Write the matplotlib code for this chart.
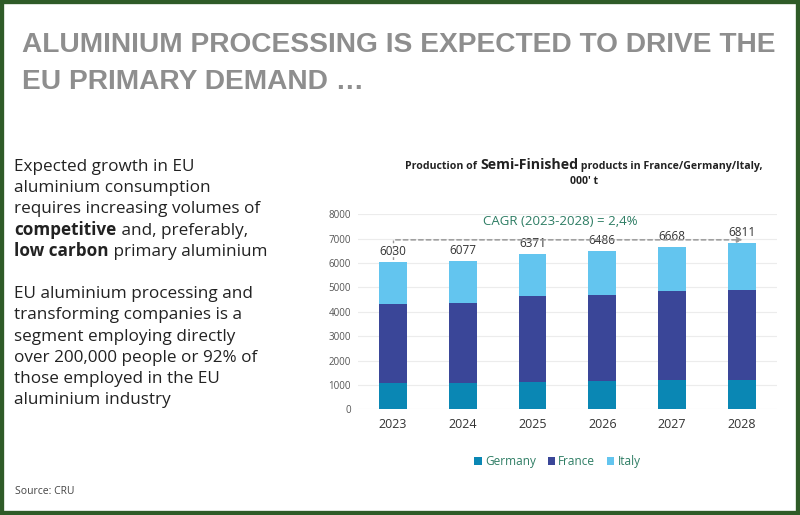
import numpy as np
import matplotlib.pyplot as plt
from matplotlib.patches import Rectangle

# Data
years = ['2023', '2024', '2025', '2026', '2027', '2028']
germany = [1070, 1080, 1140, 1175, 1190, 1210]
france = [3250, 3280, 3520, 3525, 3650, 3700]
italy = [1710, 1717, 1711, 1786, 1828, 1901]
totals = [6030, 6077, 6371, 6486, 6668, 6811]
cagr_label = 'CAGR (2023-2028) = 2,4%'
cagr_level = 6950

C_GER = '#0a87b4'
C_FRA = '#3a4698'
C_ITA = '#63c5ef'
GREEN = '#2e7d64'
BORDER = '#2f5b28'
FONT = ['Open Sans', 'DejaVu Sans']
TITLE_FONT = ['Liberation Sans', 'DejaVu Sans']

fig = plt.figure(figsize=(8, 5.15), dpi=100)
fig.patch.set_facecolor('white')

# green frame
fig.add_artist(Rectangle((0, 0), 1, 1, transform=fig.transFigure, fill=False,
                         edgecolor=BORDER, linewidth=6, clip_on=False))

fig.canvas.draw()
renderer = fig.canvas.get_renderer()

# headline, size chosen so the first line spans the slide width
head1 = 'ALUMINIUM PROCESSING IS EXPECTED TO DRIVE THE'
head2 = 'EU PRIMARY DEMAND …'
probe = fig.text(0, 0, head1, fontsize=20, fontweight='bold', family=TITLE_FONT)
hsize = 20 * 755 / probe.get_window_extent(renderer).width
probe.remove()
for txt, base in [(head1, 52), (head2, 89)]:
    fig.text(0.027, 1 - base / 515, txt, fontsize=hsize, fontweight='bold',
             color='#8e8e8e', va='baseline', ha='left', family=TITLE_FONT)


def draw_line(x0, y, pieces, size=12.3, color='#222222'):
    # pieces: list of (text, bold)
    x = x0
    for txt, bold in pieces:
        t = fig.text(x, y, txt, fontsize=size, fontweight='bold' if bold else 'normal',
                     color=color, family=FONT, va='baseline', ha='left')
        bb = t.get_window_extent(renderer)
        x += bb.width / fig.bbox.width
    return x


left_lines = [
    [('Expected growth in EU', False)],
    [('aluminium consumption', False)],
    [('requires increasing volumes of', False)],
    [('competitive', True), (' and, preferably,', False)],
    [('low carbon', True), (' primary aluminium', False)],
    [],
    [('EU aluminium processing and', False)],
    [('transforming companies is a', False)],
    [('segment employing directly', False)],
    [('over 200,000 people or 92% of', False)],
    [('those employed in the EU', False)],
    [('aluminium industry', False)],
]
y = 1 - 171 / 515
for pieces in left_lines:
    if pieces:
        draw_line(0.018, y, pieces)
    y -= 21.2 / 515

fig.text(0.019, 1 - 494 / 515, 'Source: CRU', fontsize=7.5, color='#444444',
         family=FONT, va='baseline')

# chart title with mixed sizes
title_pieces = [('Production of ', 7.6), ('Semi-Finished', 10.2), (' products in France/Germany/Italy,', 7.6)]
widths = []
for txt, sz in title_pieces:
    t = fig.text(0, 0, txt, fontsize=sz, fontweight='bold', family=FONT)
    widths.append(t.get_window_extent(renderer).width / fig.bbox.width)
    t.remove()
x = 0.73 - sum(widths) / 2
ty = 1 - 169 / 515
for (txt, sz), w in zip(title_pieces, widths):
    fig.text(x, ty, txt, fontsize=sz, fontweight='bold', color='#222222',
             family=FONT, va='baseline')
    x += w
fig.text(0.73, 1 - 184 / 515, "000' t", fontsize=7.6, fontweight='bold', color='#222222',
         family=FONT, va='baseline', ha='center')

# bar chart
ax = fig.add_axes([0.4475, 0.205, 0.5235, 0.379])
xpos = np.arange(len(years))
w = 0.4
ax.bar(xpos, germany, w, color=C_GER, label='Germany', zorder=2)
ax.bar(xpos, france, w, bottom=germany, color=C_FRA, label='France', zorder=2)
bottom2 = np.array(germany) + np.array(france)
ax.bar(xpos, italy, w, bottom=bottom2, color=C_ITA, label='Italy', zorder=2)

for xi, tot in zip(xpos, totals):
    ax.annotate(str(tot), (xi, tot), xytext=(0, 3), textcoords='offset points',
                ha='center', va='bottom', fontsize=8.5, color='#333333', family=FONT)

# CAGR dashed arrow
ax.annotate('', xy=(xpos[-1] + 0.05, cagr_level), xytext=(xpos[0], cagr_level),
            arrowprops=dict(arrowstyle='-|>', color='#999999', lw=1.1,
                            linestyle=(0, (3, 2)), mutation_scale=8), zorder=3)
ax.plot([xpos[0], xpos[0]], [cagr_level, totals[0]], color='#999999', lw=1,
        linestyle=(0, (2, 2)), zorder=1)
ax.text(2.4, 7720, cagr_label, ha='center', va='center', fontsize=9.5,
        color=GREEN, family=FONT)

ax.set_xlim(-0.5, 5.5)
ax.set_ylim(0, 8000)
ax.set_yticks(range(0, 8001, 1000))
ax.set_xticks(xpos)
ax.set_xticklabels(years)
ax.grid(axis='y', color='#ececec', lw=0.8, zorder=0)
for s in ax.spines.values():
    s.set_visible(False)
ax.tick_params(length=0)
ax.tick_params(axis='y', labelsize=7, labelcolor='#555555', pad=5)
ax.tick_params(axis='x', labelsize=9, labelcolor='#333333', pad=6)
for lab in ax.get_xticklabels() + ax.get_yticklabels():
    lab.set_family(FONT)

leg = fig.legend(loc='center', bbox_to_anchor=(0.697, 1 - 461.5 / 515), ncol=3, frameon=False,
                 handlelength=0.6, handleheight=0.6, handletextpad=0.3,
                 columnspacing=1.0, prop={'family': FONT, 'size': 8.5})
for t in leg.get_texts():
    t.set_color(GREEN)

fig.savefig('out.png', dpi=100, facecolor='white')
